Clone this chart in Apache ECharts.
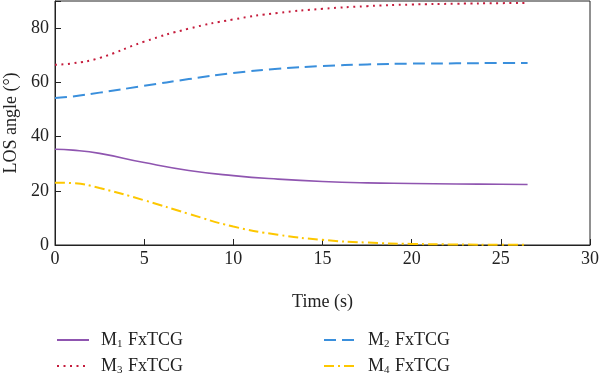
<!DOCTYPE html>
<html><head><meta charset="utf-8">
<script src="https://cdn.jsdelivr.net/npm/echarts@6/dist/echarts.min.js"></script>
<style>html,body{margin:0;padding:0;background:#fff}#c{width:600px;height:382px}</style>
</head><body><div id="c"></div>
<script>
const time = [0, 1, 2.5, 5, 7.5, 10, 12.5, 15, 17.5, 20, 22.5, 25, 26.5];
const m1 = [35.3, 35.0, 33.8, 30.4, 27.5, 25.6, 24.3, 23.4, 22.9, 22.7, 22.5, 22.4, 22.3];
const m2 = [54.2, 54.8, 56.2, 58.7, 61.2, 63.4, 65.0, 66.0, 66.6, 66.9, 67.0, 67.1, 67.1];
const m3 = [66.5, 67.0, 69.0, 75.0, 79.8, 83.2, 85.6, 87.1, 88.1, 88.7, 89.0, 89.2, 89.3];
const m4 = [23.0, 22.8, 21.0, 16.5, 11.5, 6.8, 3.8, 1.9, 0.9, 0.4, 0.2, 0.1, 0.1];
const names = ['M{s|1} FxTCG', 'M{s|2} FxTCG', 'M{s|3} FxTCG', 'M{s|4} FxTCG'];
const xTicks = [0, 5, 10, 15, 20, 25, 30];
const yTicks = [0, 20, 40, 60, 80];

const font = 'Liberation Serif';
const pair = (ys) => time.map((t, i) => [t, ys[i]]);
const legendText = {
  fontFamily: font, fontSize: 18, color: '#222', lineHeight: 20, padding: [0, 0, 0, 7],
  rich: { s: { fontFamily: font, fontSize: 11, color: '#222', verticalAlign: 'bottom', padding: [10, 1, 0, 0], lineHeight: 20 } }
};
const chart = echarts.init(document.getElementById('c'));
chart.setOption({
  animation: false,
  backgroundColor: '#fff',
  grid: { left: 55, right: 10, top: 1, bottom: 137, show: true, borderColor: '#222', borderWidth: 1,
    containLabel: false, outerBoundsMode: 'none' },
  xAxis: {
    type: 'value', min: 0, max: 30, interval: 5,
    name: 'Time (s)', nameLocation: 'middle', nameGap: 48,
    nameTextStyle: { fontFamily: font, fontSize: 18, color: '#222' },
    axisLine: { lineStyle: { color: '#222', width: 1 } },
    axisTick: { inside: true, length: 6, lineStyle: { color: '#222' } },
    axisLabel: { fontFamily: font, fontSize: 18, color: '#222', margin: 5,
      formatter: v => xTicks.includes(v) ? String(v) : '' },
    splitLine: { show: false }
  },
  yAxis: {
    type: 'value', min: 0, max: 90, interval: 20,
    name: 'LOS angle (°)', nameLocation: 'middle', nameGap: 35,
    nameTextStyle: { fontFamily: font, fontSize: 18, color: '#222' },
    axisLine: { lineStyle: { color: '#222', width: 1 } },
    axisTick: { inside: true, length: 6, lineStyle: { color: '#222' } },
    axisLabel: { fontFamily: font, fontSize: 18, color: '#222', margin: 6,
      formatter: v => yTicks.includes(v) ? String(v) : '' },
    splitLine: { show: false }
  },
  legend: [
    { data: [names[0], names[2]], orient: 'vertical', left: 56, top: 329, itemWidth: 32, itemHeight: 14, itemGap: 5,
      padding: 0, itemStyle: { opacity: 0 }, textStyle: legendText },
    { data: [names[1], names[3]], orient: 'vertical', left: 323, top: 329, itemWidth: 32, itemHeight: 14, itemGap: 5,
      padding: 0, itemStyle: { opacity: 0 }, textStyle: legendText }
  ],
  series: [
    { name: names[0], type: 'line', data: pair(m1), smooth: 0.5, symbol: 'none', showSymbol: false,
      lineStyle: { color: '#8f55b0', width: 1.6, type: 'solid' }, itemStyle: { color: '#8f55b0' } },
    { name: names[1], type: 'line', data: pair(m2), smooth: 0.5, symbol: 'none', showSymbol: false,
      lineStyle: { color: '#3a8fdc', width: 2, type: [12, 6] }, itemStyle: { color: '#3a8fdc' } },
    { name: names[2], type: 'line', data: pair(m3), smooth: 0.5, symbol: 'none', showSymbol: false,
      lineStyle: { color: '#c51c3c', width: 2, type: [2, 4.5] }, itemStyle: { color: '#c51c3c' } },
    { name: names[3], type: 'line', data: pair(m4), smooth: 0.5, symbol: 'none', showSymbol: false,
      lineStyle: { color: '#fdc700', width: 2, type: [10, 4, 2, 4] }, itemStyle: { color: '#fdc700' } }
  ]
});
</script></body></html>
